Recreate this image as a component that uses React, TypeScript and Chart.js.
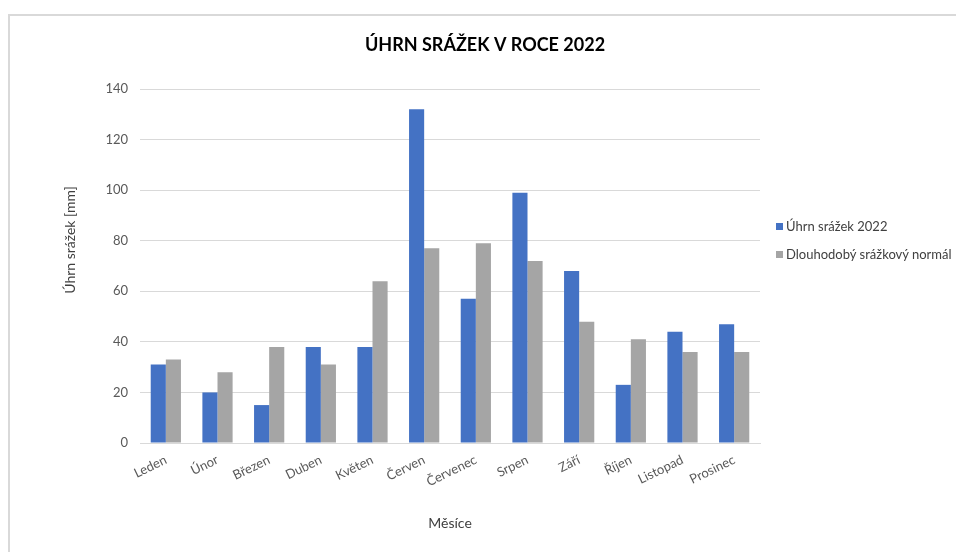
import React, { useEffect, useRef } from "react";
import { Chart, registerables } from "chart.js";

Chart.register(...registerables);

const TITLE = "ÚHRN SRÁŽEK V ROCE 2022";
const Y_TITLE = "Úhrn srážek [mm]";
const X_TITLE = "Měsíce";
const MONTHS = ["Leden", "Únor", "Březen", "Duben", "Květen", "Červen", "Červenec", "Srpen", "Září", "Říjen", "Listopad", "Prosinec"];
const SERIES_NAMES = ["Úhrn srážek 2022", "Dlouhodobý srážkový normál"];
const RAIN_2022 = [31, 20, 15, 38, 38, 132, 57, 99, 68, 23, 44, 47];
const LONG_TERM_NORMAL = [33, 28, 38, 31, 64, 77, 79, 72, 48, 41, 36, 36];
const SERIES_COLORS = ["#4472C4", "#A5A5A5"];
const Y_MIN = 0;
const Y_MAX = 140;
const Y_STEP = 20;

const FONT = "Lato, 'Open Sans', sans-serif";

const textPlugin = {
  id: "customTexts",
  afterDraw(chart: any) {
    const { ctx, chartArea, width } = chart;
    ctx.save();
    // chart title
    ctx.font = `bold 18px ${FONT}`;
    ctx.fillStyle = "#000000";
    ctx.textAlign = "center";
    ctx.textBaseline = "middle";
    ctx.fillText(TITLE, width / 2 + 7, chartArea.top - 44);
    // y axis title
    ctx.translate(chartArea.left - 70, (chartArea.top + chartArea.bottom) / 2 - 26);
    ctx.rotate(-Math.PI / 2);
    ctx.font = `14px ${FONT}`;
    ctx.fillStyle = "#404040";
    ctx.fillText(Y_TITLE, 0, 0);
    ctx.restore();
  },
};

export default function App() {
  const canvasRef = useRef<HTMLCanvasElement | null>(null);

  useEffect(() => {
    if (!canvasRef.current) return;
    const chart = new Chart(canvasRef.current, {
      type: "bar",
      data: {
        labels: MONTHS,
        datasets: [
          {
            label: SERIES_NAMES[0],
            data: RAIN_2022,
            backgroundColor: SERIES_COLORS[0],
            borderWidth: 0,
            barPercentage: 1,
            categoryPercentage: 0.585,
          },
          {
            label: SERIES_NAMES[1],
            data: LONG_TERM_NORMAL,
            backgroundColor: SERIES_COLORS[1],
            borderWidth: 0,
            barPercentage: 1,
            categoryPercentage: 0.585,
          },
        ],
      },
      options: {
        responsive: false,
        animation: false,
        devicePixelRatio: 1,
        layout: { padding: { top: 89, left: 0, right: 196, bottom: 0 } },
        plugins: {
          legend: { display: false },
          tooltip: { enabled: false },
          title: { display: false },
        },
        scales: {
          x: {
            grid: { display: false, drawTicks: false },
            border: { display: true, color: "#D9D9D9", width: 1 },
            ticks: {
              color: "#595959",
              font: { family: FONT, size: 13 },
              minRotation: 26,
              maxRotation: 26,
              padding: 9,
              autoSkip: false,
            },
            title: {
              display: true,
              text: X_TITLE,
              color: "#404040",
              font: { family: FONT, size: 14 },
              padding: { top: 0, bottom: 20 },
            },
            afterFit: (scale: any) => {
              scale.height = 109;
            },
          },
          y: {
            min: Y_MIN,
            max: Y_MAX,
            grid: { color: "#D9D9D9", drawTicks: false, lineWidth: 1 },
            border: { display: false },
            ticks: {
              stepSize: Y_STEP,
              color: "#595959",
              font: { family: FONT, size: 13 },
              padding: 12,
            },
            afterFit: (scale: any) => {
              scale.width = 140;
            },
          },
        },
      },
      plugins: [textPlugin],
    });
    return () => chart.destroy();
  }, []);

  return (
    <div style={{ position: "fixed", left: 0, top: 0, width: 956, height: 552, overflow: "hidden", background: "#fff" }}>
      <div
        style={{
          position: "absolute",
          left: 8,
          top: 14,
          width: 960,
          height: 560,
          borderLeft: "2px solid #D9D9D9",
          borderTop: "2px solid #D9D9D9",
        }}
      />
      <canvas ref={canvasRef} width={956} height={552} style={{ position: "absolute", left: 0, top: 0 }} />
      <div
        style={{
          position: "absolute",
          left: 776,
          top: 217,
          fontFamily: FONT,
          fontSize: 13,
          color: "#404040",
          lineHeight: "18px",
        }}
      >
        {SERIES_NAMES.map((name, i) => (
          <div key={name} style={{ display: "flex", alignItems: "center", marginBottom: i === 0 ? 10 : 0, whiteSpace: "nowrap" }}>
            <span style={{ display: "inline-block", width: 7, height: 7, background: SERIES_COLORS[i], marginRight: 3 }} />
            {name}
          </div>
        ))}
      </div>
    </div>
  );
}
